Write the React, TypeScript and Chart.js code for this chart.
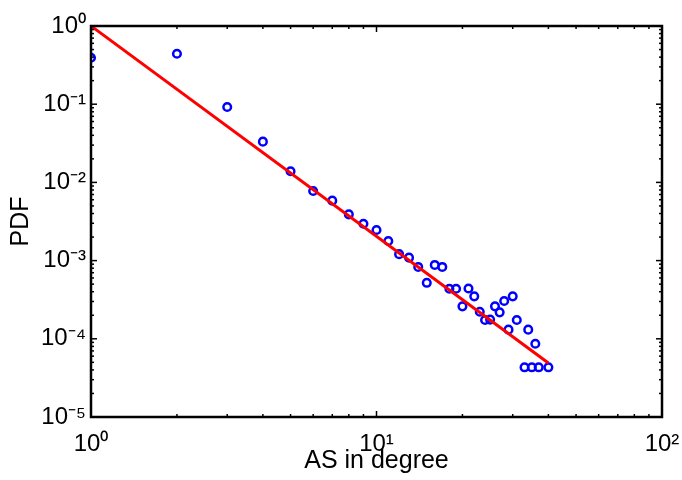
import React, { useEffect, useRef } from "react";
import { Chart, registerables } from "chart.js";

Chart.register(...registerables);

// ---- data ----
const angles = [1, 2, 3, 4, 5, 6, 7, 8, 9, 10, 11, 12, 13, 14, 15, 16, 17, 18, 19, 20, 21, 22, 23, 24, 25, 26, 27, 28, 29, 30, 31, 33, 34, 35, 36, 37, 40];
const pdfValues = [
  0.393, 0.442, 0.092, 0.0332, 0.0139, 0.00776, 0.00584, 0.0039, 0.00296, 0.00246,
  0.00178, 0.00121, 0.00109, 0.00083, 0.00052, 0.00088, 0.00083, 0.000437, 0.000437, 0.00026,
  0.00044, 0.000349, 0.000222, 0.000174, 0.000176, 0.00026, 0.000218, 0.000304, 0.000131, 0.000349,
  0.000174, 0.0000432, 0.000131, 0.0000432, 0.0000865, 0.0000432, 0.0000432,
];
const fitX = [1, 40];
const fitY = [1, 0.000049];

const xTickValues = [1, 10, 100];
const xTickLabels = ["10⁰", "10¹", "10²"];
const yTickValues = [1e-5, 1e-4, 1e-3, 1e-2, 1e-1, 1];
const yTickLabels = ["10⁻⁵", "10⁻⁴", "10⁻³", "10⁻²", "10⁻¹", "10⁰"];

const xTitle = "AS in degree";
const yTitle = "PDF";

const FONT = "'Liberation Sans', Arial, Helvetica, sans-serif";

const framePlugin = {
  id: "matlabFrame",
  afterDatasetsDraw(chart: any) {
    const { ctx, chartArea, scales } = chart;
    const { left, right, top, bottom } = chartArea;
    const xs = scales.x;
    const ys = scales.y;
    ctx.save();
    ctx.strokeStyle = "#000";
    ctx.lineWidth = 1.5;
    const seg = (x1: number, y1: number, x2: number, y2: number) => {
      ctx.beginPath();
      ctx.moveTo(x1, y1);
      ctx.lineTo(x2, y2);
      ctx.stroke();
    };
    for (let d = 0; d <= 2; d++) {
      for (let m = 1; m <= 9; m++) {
        const v = m * Math.pow(10, d);
        if (v > 100) break;
        const px = xs.getPixelForValue(v);
        const len = m === 1 ? 6 : 3;
        seg(px, bottom, px, bottom - len);
        seg(px, top, px, top + len);
      }
    }
    for (let d = -5; d <= 0; d++) {
      for (let m = 1; m <= 9; m++) {
        const v = m * Math.pow(10, d);
        if (v > 1) break;
        const py = ys.getPixelForValue(v);
        const len = m === 1 ? 6 : 3;
        seg(left, py, left + len, py);
        seg(right, py, right - len, py);
      }
    }
    ctx.lineWidth = 2.5;
    ctx.strokeRect(left, top, right - left, bottom - top);
    ctx.restore();
  },
};

export default function App() {
  const canvasRef = useRef<HTMLCanvasElement | null>(null);

  useEffect(() => {
    document.body.style.margin = "0";
    const canvas = canvasRef.current;
    if (!canvas) return;
    const chart = new Chart(canvas, {
      type: "scatter",
      data: {
        datasets: [
          {
            label: "fit",
            data: fitX.map((x, i) => ({ x, y: fitY[i] })),
            showLine: true,
            borderColor: "#ff0000",
            borderWidth: 3,
            pointRadius: 0,
            fill: false,
            order: 0,
          } as any,
          {
            label: "PDF",
            data: angles.map((x, i) => ({ x, y: pdfValues[i] })),
            showLine: false,
            borderColor: "#0000ff",
            backgroundColor: "rgba(0,0,0,0)",
            borderWidth: 2.5,
            pointRadius: 3.8,
            pointStyle: "circle",
            order: 1,
          } as any,
        ],
      },
      options: {
        responsive: false,
        animation: false,
        devicePixelRatio: 1,
        layout: { autoPadding: false, padding: { top: 26, right: 20, left: 0, bottom: 0 } },
        plugins: {
          legend: { display: false },
          tooltip: { enabled: false },
        },
        scales: {
          x: {
            type: "logarithmic",
            position: "bottom",
            min: 1,
            max: 100,
            grid: { display: false, drawTicks: false },
            border: { display: false },
            afterBuildTicks: (s: any) => {
              s.ticks = xTickValues.map((v) => ({ value: v }));
            },
            afterFit: (s: any) => {
              s.height = 63;
              s.paddingLeft = 0;
              s.paddingRight = 0;
            },
            ticks: {
              autoSkip: false,
              maxRotation: 0,
              padding: 13,
              color: "#000",
              font: { family: FONT, size: 24 },
              callback: (v: any) => {
                const i = xTickValues.indexOf(Number(v));
                return i >= 0 ? xTickLabels[i] : "";
              },
            },
            title: {
              display: true,
              text: xTitle,
              color: "#000",
              font: { family: FONT, size: 25 },
              padding: { top: 0, bottom: 4 },
            },
          },
          y: {
            type: "logarithmic",
            position: "left",
            min: 1e-5,
            max: 1,
            grid: { display: false, drawTicks: false },
            border: { display: false },
            afterBuildTicks: (s: any) => {
              s.ticks = yTickValues.map((v) => ({ value: v }));
            },
            afterFit: (s: any) => {
              s.width = 91;
              s.paddingTop = 0;
              s.paddingBottom = 0;
            },
            ticks: {
              autoSkip: false,
              padding: 5,
              color: "#000",
              font: { family: FONT, size: 24 },
              callback: (v: any) => {
                const val = Number(v);
                const i = yTickValues.findIndex((t) => Math.abs(t - val) / t < 1e-6);
                return i >= 0 ? yTickLabels[i] : "";
              },
            },
            title: {
              display: true,
              text: yTitle,
              color: "#000",
              font: { family: FONT, size: 25 },
              padding: { top: 6, bottom: 0 },
            },
          },
        },
      },
      plugins: [framePlugin],
    });
    return () => chart.destroy();
  }, []);

  return (
    <div style={{ width: 682, height: 480, background: "#fff" }}>
      <canvas ref={canvasRef} width={682} height={480} style={{ display: "block" }} />
    </div>
  );
}
